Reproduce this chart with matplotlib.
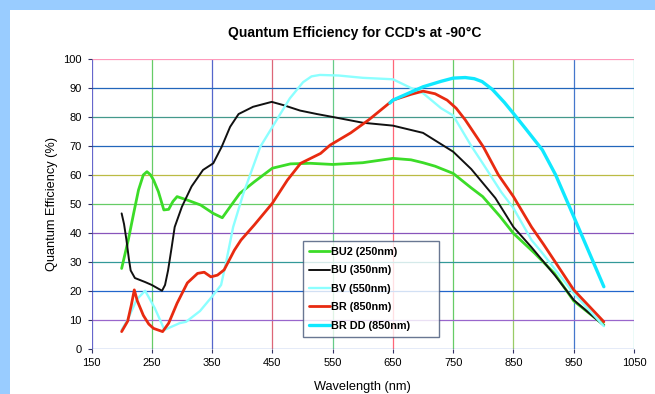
import matplotlib
matplotlib.use("Agg")
import matplotlib.pyplot as plt
from matplotlib.patches import Rectangle

plt.rcParams['font.family'] = ['Liberation Sans', 'DejaVu Sans']

# curves (wavelength nm, QE %)
bu2_nm = [200, 211, 220, 228, 236, 242, 248, 253, 261, 270, 278, 285, 292, 309, 331, 352,
          367, 380, 396, 420, 450, 480, 513, 550, 600, 650, 680, 700, 720, 750, 780, 799,
          828, 850, 885, 918, 950, 1000]
bu2_qe = [27.7, 37.5, 46.8, 54.8, 60.0, 61.1, 60.0, 58.2, 54.2, 47.9, 48.1, 50.8, 52.5, 51.3, 49.6, 46.7,
          45.2, 49.0, 53.6, 57.6, 62.3, 63.8, 64.0, 63.6, 64.2, 65.7, 65.2, 64.2, 63.0, 60.5, 55.5, 52.5,
          45.6, 39.8, 33.0, 26.0, 16.5, 8.2]

bu_nm = [200, 204, 208, 212, 215, 222, 239, 250, 267, 272, 277, 283, 288, 300, 316, 335,
         352, 366, 380, 394, 418, 449, 468, 496, 524, 550, 600, 650, 700, 750, 780, 820,
         850, 880, 920, 950, 1000]
bu_qe = [46.7, 43.0, 37.5, 31.0, 27.0, 24.4, 23.0, 22.0, 20.0, 22.0, 27.0, 35.0, 42.0, 49.0, 56.0, 61.7,
         64.0, 69.7, 76.6, 81.0, 83.5, 85.2, 84.1, 82.2, 81.0, 80.0, 78.0, 77.0, 74.5, 68.0, 62.0, 52.0,
         42.0, 35.0, 25.0, 16.8, 8.0]

bv_nm = [200, 210, 225, 239, 255, 271, 296, 307, 330, 352, 365, 374, 385, 402, 430,
         452, 479, 501, 515, 529, 560, 600, 650, 680, 700, 730, 750, 780, 799, 830, 850,
         880, 898, 950, 1000]
bv_qe = [6.5, 10.0, 17.0, 20.0, 14.0, 6.5, 8.8, 9.3, 13.0, 18.5, 22.0, 30.6, 42.0, 53.6, 69.7,
         77.2, 86.4, 92.0, 94.0, 94.5, 94.3, 93.5, 93.0, 90.0, 88.2, 83.0, 80.5, 70.0, 64.0, 54.0, 48.5,
         37.5, 33.0, 19.1, 7.8]

br_nm = [200, 210, 216, 221, 226, 236, 245, 253, 268, 278, 292, 309, 326, 337, 348, 359, 370,
         387, 398, 420, 450, 475, 497, 530, 546, 580, 610, 650, 680, 700, 720, 740, 755,
         770, 800, 825, 850, 880, 900, 950, 1000]
br_qe = [5.9, 9.5, 15.0, 20.3, 16.5, 11.5, 8.5, 7.0, 5.9, 8.8, 15.7, 22.7, 26.0, 26.4, 24.8, 25.4, 27.2,
         34.0, 37.5, 42.7, 50.2, 58.2, 64.0, 67.4, 70.3, 74.5, 79.0, 85.8, 87.8, 88.9, 88.0, 85.8, 83.0,
         79.0, 69.7, 60.0, 52.5, 42.0, 36.0, 20.3, 9.3]

brdd_nm = [645, 650, 700, 730, 750, 770, 785, 798, 815, 835, 850, 870, 898, 920, 950, 975, 1000]
brdd_qe = [84.8, 85.8, 90.4, 92.3, 93.4, 93.6, 93.2, 92.2, 89.5, 85.0, 81.2, 76.0, 68.6, 60.0, 45.6, 33.5, 21.4]

series = [
    ("BU2 (250nm)", bu2_nm, bu2_qe, "#3CDC28", 2.0),
    ("BU (350nm)", bu_nm, bu_qe, "#111111", 1.4),
    ("BV (550nm)", bv_nm, bv_qe, "#8CFFFF", 1.7),
    ("BR (850nm)", br_nm, br_qe, "#E82A10", 2.0),
    ("BR DD (850nm)", brdd_nm, brdd_qe, "#10E8FF", 2.4),
]

x_ticks = [150, 250, 350, 450, 550, 650, 750, 850, 950, 1050]
y_ticks = [0, 10, 20, 30, 40, 50, 60, 70, 80, 90, 100]

# odd multi-coloured gridlines of the original
vgrid_colors = ["#6666CC", "#66CC66", "#5566CC", "#DD6677", "#66CC88", "#FF6677",
                "#66CC66", "#99CC66", "#4477CC", "#66DDCC"]
hgrid_colors = ["#3366CC", "#9966CC", "#2266CC", "#339999", "#8855BB", "#66CC66",
                "#BBBB44", "#2266BB", "#44998C", "#2266BB", "#FF99BB"]

fig = plt.figure(figsize=(6.55, 3.94), dpi=100, facecolor="#99CCFF")
fig.patches.append(Rectangle((10 / 655, 0), 1, (394 - 10) / 394, transform=fig.transFigure,
                             facecolor="white", edgecolor="none", zorder=-5))

ax = fig.add_axes([91.5 / 655, 45.3 / 394, 542.5 / 655, 289.7 / 394])
ax.set_facecolor("white")

for xv, c in zip(x_ticks, vgrid_colors):
    ax.axvline(xv, color=c, lw=0.9, zorder=1)
for yv, c in zip(y_ticks, hgrid_colors):
    ax.axhline(yv, color=c, lw=0.9, zorder=1)

for label, xs, ys, col, lw in series:
    ax.plot(xs, ys, color=col, lw=lw, label=label, zorder=3,
            solid_capstyle="round", solid_joinstyle="round")

ax.set_xlim(150, 1050)
ax.set_ylim(0, 100)
ax.set_xticks(x_ticks)
ax.set_yticks(y_ticks)
ax.tick_params(labelsize=8, length=3, width=0.8, color="#333366", pad=4)
for s in ax.spines.values():
    s.set_visible(False)

ax.set_xlabel("Wavelength (nm)", fontsize=9.2, labelpad=9)
ax.set_ylabel("Quantum Efficiency (%)", fontsize=9.2, labelpad=4)
fig.text(355 / 655, 1 - 33 / 394, "Quantum Efficiency for CCD's at -90°C",
         ha="center", va="center", fontsize=10, fontweight="bold")

leg = ax.legend(loc="upper left", bbox_to_anchor=(0.39, 0.372, 0.25, 0.0), mode="expand",
                prop={"weight": "bold", "size": 7.8}, frameon=True, fancybox=False,
                handlelength=1.9, handletextpad=0.15, labelspacing=0.78, borderpad=0.55,
                borderaxespad=0)
leg.get_frame().set_edgecolor("#445577")
leg.get_frame().set_linewidth(1.0)
leg.set_zorder(5)

fig.savefig("out.png", dpi=100, facecolor=fig.get_facecolor())
